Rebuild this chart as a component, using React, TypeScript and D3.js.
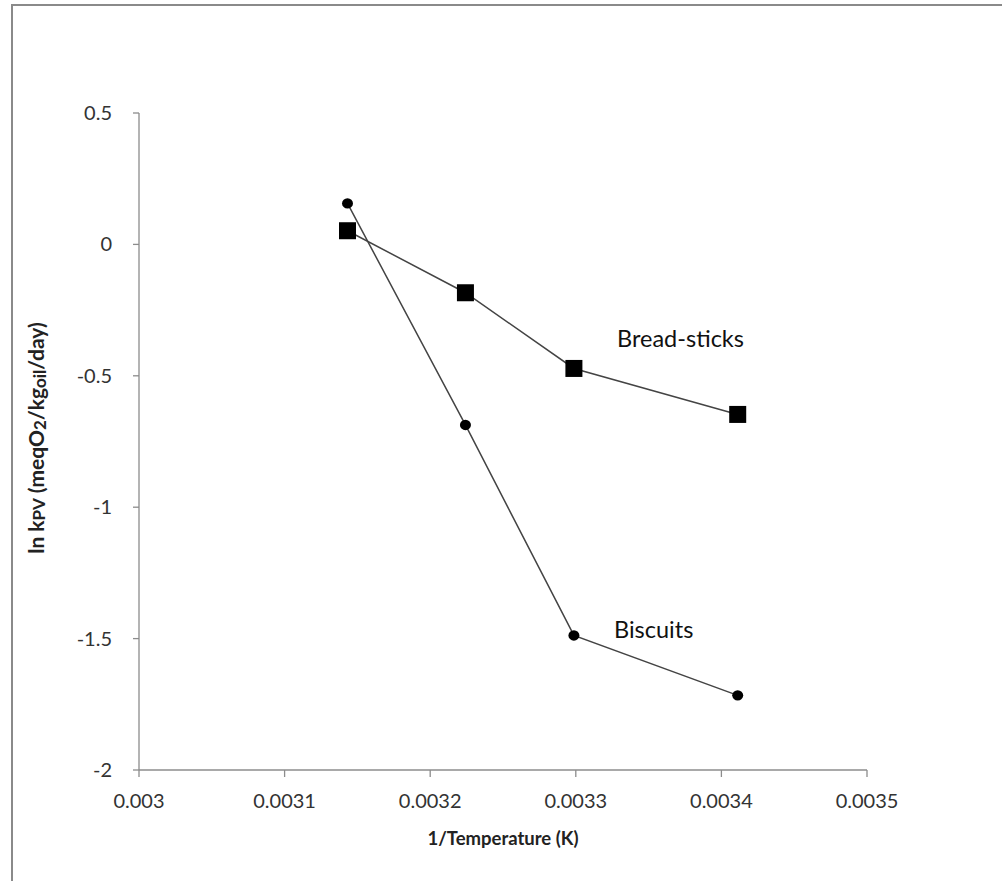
import React from "react";
import * as d3 from "d3";

const invTemp = [0.0031432, 0.0032242, 0.0032987, 0.0034112];
const breadSticks = [0.052, -0.184, -0.472, -0.647];
const biscuits = [0.156, -0.687, -1.488, -1.716];
const xTicks = [0.003, 0.0031, 0.0032, 0.0033, 0.0034, 0.0035];
const yTicks = [0.5, 0, -0.5, -1, -1.5, -2];

const W = 1002, H = 881;
const FONT = "Lato, 'Open Sans', sans-serif";

export default function App() {
  const x = d3.scaleLinear().domain([0.003, 0.0035]).range([139, 867]);
  const y = d3.scaleLinear().domain([-2, 0.5]).range([770, 113]);
  const line = d3.line<[number, number]>().x(d => x(d[0])).y(d => y(d[1]));
  const bread = invTemp.map((t, i) => [t, breadSticks[i]] as [number, number]);
  const bisc = invTemp.map((t, i) => [t, biscuits[i]] as [number, number]);
  const axisColor = "#8c8c8c";
  return (
    <svg width={W} height={H} style={{ position: "absolute", left: 0, top: 0, background: "#fff" }} fontFamily={FONT}>
      <rect x={0} y={0} width={W} height={H} fill="#fff" />
      <line x1={11} y1={5} x2={W} y2={5} stroke="#8a8a8a" strokeWidth={2} />
      <line x1={12} y1={5} x2={12} y2={H} stroke="#8a8a8a" strokeWidth={2} />
      {/* axes */}
      <line x1={x(0.003)} y1={y(0.5)} x2={x(0.003)} y2={y(-2)} stroke={axisColor} strokeWidth={1.3} />
      <line x1={x(0.003)} y1={y(-2)} x2={x(0.0035)} y2={y(-2)} stroke={axisColor} strokeWidth={1.3} />
      {yTicks.map(v => (
        <g key={"y" + v}>
          <line x1={x(0.003) - 6} x2={x(0.003)} y1={y(v)} y2={y(v)} stroke={axisColor} strokeWidth={1.3} />
          <text x={112} y={y(v)} dy="0.35em" textAnchor="end" fontSize={20} fill="#333">{v}</text>
        </g>
      ))}
      {xTicks.map(v => (
        <g key={"x" + v}>
          <line x1={x(v)} x2={x(v)} y1={y(-2)} y2={y(-2) + 7} stroke={axisColor} strokeWidth={1.3} />
          <text x={x(v)} y={808} textAnchor="middle" fontSize={20} fill="#333">{v}</text>
        </g>
      ))}
      <text x={503} y={845} textAnchor="middle" fontSize={18.5} fontWeight="bold" fill="#222">1/Temperature (K)</text>
      <text transform={`translate(44,438) rotate(-90)`} textAnchor="middle" fontSize={21} fontWeight="bold" fill="#222">
        ln k<tspan fontSize={17} dy={1}>PV</tspan><tspan dy={-1}> (meqO</tspan><tspan fontSize={17} dy={2}>2</tspan><tspan dy={-2}>/kg</tspan><tspan fontSize={17} dy={2}>oil</tspan><tspan dy={-2}>/day)</tspan>
      </text>
      <path d={line(bread) || ""} fill="none" stroke="#444" strokeWidth={1.5} />
      <path d={line(bisc) || ""} fill="none" stroke="#444" strokeWidth={1.5} />
      {bread.map((d, i) => (
        <rect key={"b" + i} x={x(d[0]) - 8.5} y={y(d[1]) - 8.5} width={17} height={17} fill="#000" />
      ))}
      {bisc.map((d, i) => (
        <ellipse key={"c" + i} cx={x(d[0])} cy={y(d[1])} rx={5.5} ry={5.2} fill="#000" />
      ))}
      <text x={617} y={347} fontSize={23.5} fill="#111">Bread-sticks</text>
      <text x={614} y={638} fontSize={23.5} fill="#111">Biscuits</text>
    </svg>
  );
}
